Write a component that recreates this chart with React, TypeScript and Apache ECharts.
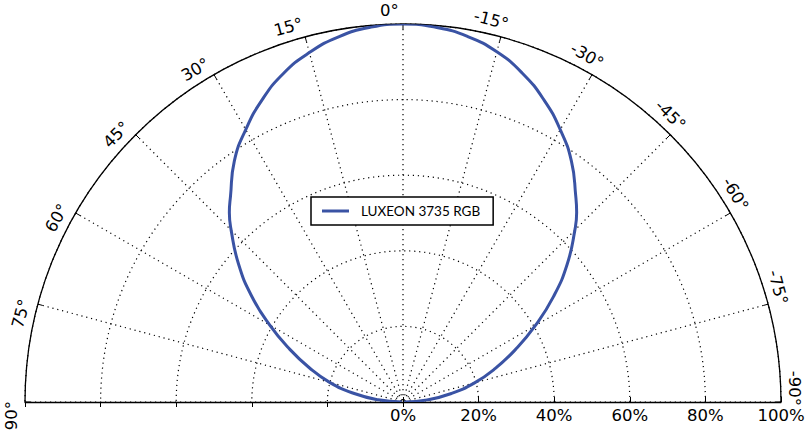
import React, { useEffect, useRef } from 'react';
import * as echarts from 'echarts';

const SERIES_NAME = 'LUXEON 3735 RGB';
const ANGLES = [
  -90, -85, -80, -75, -70, -65, -60, -55, -50, -45, -42.5, -40, -35, -30, -25, -20, -15, -10, -5,
  0, 5, 10, 15, 20, 25, 30, 35, 40, 42.5, 45, 50, 55, 60, 65, 70, 75, 80, 85, 90,
];
const INTENSITY = [
  0.3, 6.4, 13.0, 19.6, 26.0, 32.8, 40.4, 48.6, 56.7, 64.3, 68.0, 71.1, 77.7, 83.2, 88.2, 92.5, 95.9, 98.2, 99.5,
  100, 99.5, 98.1, 95.7, 92.5, 88.2, 83.2, 77.8, 71.0, 68.0, 64.3, 56.8, 48.9, 40.7, 33.1, 26.3, 20.1, 13.3, 6.6, 0.3,
];
const ANGLE_TICKS = [-90, -75, -60, -45, -30, -15, 0, 15, 30, 45, 60, 75, 90];
const RADIUS_TICKS = [0, 20, 40, 60, 80, 100];

const CURVE_COLOR = '#3a53a4';

export default function App() {
  const ref = useRef<HTMLDivElement>(null);
  useEffect(() => {
    const chart = echarts.init(ref.current!, null, { renderer: 'svg' });
    const dotted = { color: '#000', width: 1.2, type: [1.2, 3.8] };
    const center = [403, 402];
    chart.setOption({
      animation: false,
      polar: [
        { center, radius: 378 },
        { center, radius: 378 },
      ],
      angleAxis: [
        {
          polarIndex: 0,
          type: 'value',
          startAngle: 0,
          endAngle: 180,
          clockwise: false,
          min: -90,
          max: 90,
          interval: 15,
          axisLine: { lineStyle: { color: '#000', width: 1.3 } },
          axisTick: { inside: true, length: 5, lineStyle: { color: '#000', width: 1 } },
          axisLabel: { show: false },
          splitLine: { lineStyle: dotted },
        },
        {
          polarIndex: 1,
          type: 'value',
          startAngle: 180,
          endAngle: 0,
          clockwise: true,
          min: -90,
          max: 90,
          interval: 15,
          axisLine: { show: false },
          axisTick: { show: false },
          axisLabel: { show: false },
          splitLine: { show: false },
        },
      ],
      radiusAxis: [
        {
          polarIndex: 0,
          type: 'value',
          min: RADIUS_TICKS[0],
          max: RADIUS_TICKS[RADIUS_TICKS.length - 1],
          interval: 20,
          axisLine: { lineStyle: { color: '#000', width: 1.3 } },
          axisTick: { length: 5, lineStyle: { color: '#000', width: 1 } },
          axisLabel: {
            formatter: '{value}%',
            margin: -5,
            verticalAlign: 'top',
            color: '#000',
            fontFamily: 'DejaVu Sans',
            fontSize: 16.5,
          },
          splitLine: { lineStyle: dotted },
        },
        {
          polarIndex: 1,
          type: 'value',
          min: RADIUS_TICKS[0],
          max: RADIUS_TICKS[RADIUS_TICKS.length - 1],
          interval: 20,
          axisLine: { lineStyle: { color: '#000', width: 1.3 } },
          axisTick: { inside: true, length: 5, lineStyle: { color: '#000', width: 1 } },
          axisLabel: { show: false },
          splitLine: { show: false },
        },
      ],
      legend: {
        left: 311,
        top: 197,
        data: [{ name: SERIES_NAME, icon: 'rect' }],
        itemWidth: 27,
        itemHeight: 3,
        padding: [7, 13, 7, 11],
        borderColor: '#000',
        borderWidth: 1.5,
        borderRadius: 0,
        backgroundColor: '#fff',
        textStyle: { fontFamily: 'Lato', fontSize: 13.5, color: '#000', padding: [0, 0, 0, 7] },
      },
      series: [
        {
          type: 'line',
          name: SERIES_NAME,
          coordinateSystem: 'polar',
          polarIndex: 0,
          data: ANGLES.map((a, i) => [INTENSITY[i], a]),
          smooth: 0.5,
          showSymbol: false,
          symbol: 'none',
          lineStyle: { color: CURVE_COLOR, width: 3 },
          itemStyle: { color: CURVE_COLOR },
          z: 5,
        },
      ],
    });
    const texts = ANGLE_TICKS.map((a) => {
      const p = chart.convertToPixel({ seriesIndex: 0 }, [103.7, a + 2]) as number[];
      return {
        type: 'text',
        x: p[0],
        y: p[1],
        rotation: (a * Math.PI) / 180,
        style: {
          text: `${a}°`,
          fontFamily: 'DejaVu Sans',
          fontSize: 16.5,
          fill: '#000',
          align: 'center',
          verticalAlign: 'middle',
        },
      };
    });
    chart.setOption({ graphic: texts });
    return () => chart.dispose();
  }, []);
  return (
    <div
      ref={ref}
      style={{ position: 'absolute', left: 0, top: 0, width: 806, height: 431 }}
    />
  );
}
